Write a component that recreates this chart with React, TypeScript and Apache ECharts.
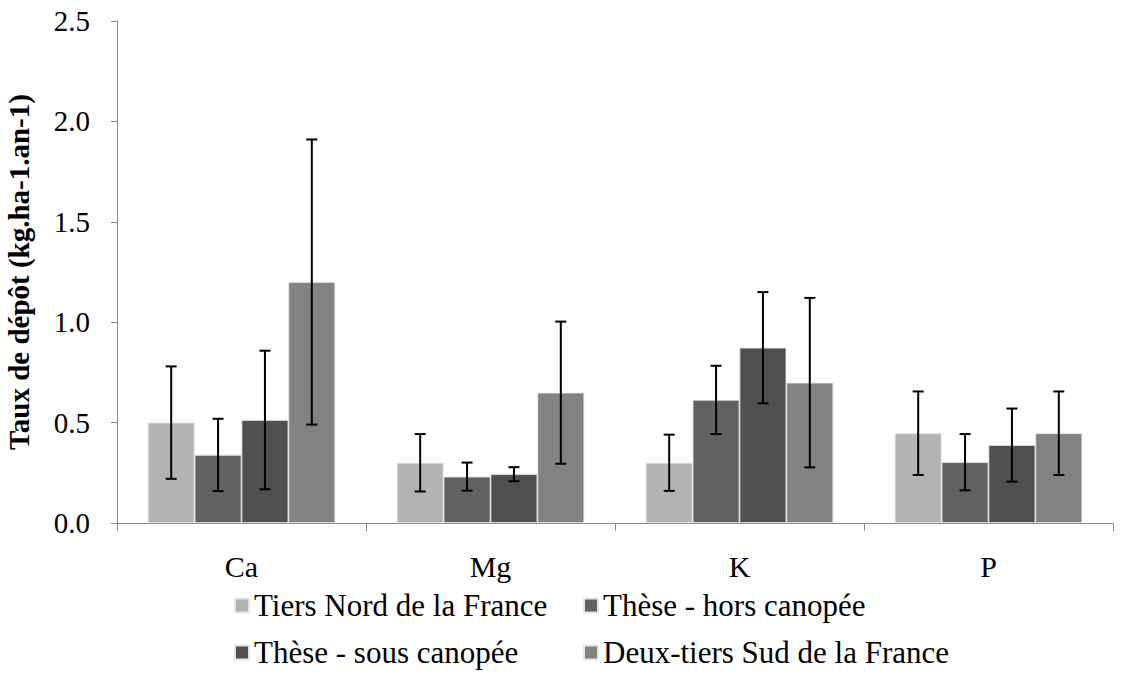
import React, { useEffect, useRef } from "react";
import * as echarts from "echarts";

const categories = ["Ca", "Mg", "K", "P"];
const seriesNames = [
  "Tiers Nord de la France",
  "Thèse - hors canopée",
  "Thèse - sous canopée",
  "Deux-tiers Sud de la France",
];
const tiersNord = [0.5, 0.3, 0.3, 0.447];
const horsCanopee = [0.339, 0.231, 0.613, 0.303];
const sousCanopee = [0.513, 0.243, 0.873, 0.388];
const deuxTiersSud = [1.2, 0.649, 0.699, 0.447];
const errTiersNord = [0.28, 0.143, 0.14, 0.208];
const errHorsCanopee = [0.18, 0.07, 0.17, 0.14];
const errSousCanopee = [0.345, 0.035, 0.277, 0.182];
const errDeuxTiersSud = [0.71, 0.354, 0.422, 0.208];
const colors = ["#b3b3b3", "#616161", "#505050", "#828282"];

const FONT = "'Liberation Serif', 'Times New Roman', serif";
const GAP = 0.247;

export default function App() {
  const ref = useRef<HTMLDivElement>(null);
  useEffect(() => {
    const chart = echarts.init(ref.current!, null, { renderer: "svg" });
    const values = [tiersNord, horsCanopee, sousCanopee, deuxTiersSud];
    const errs = [errTiersNord, errHorsCanopee, errSousCanopee, errDeuxTiersSud];
    const errData: number[][] = [];
    categories.forEach((_, c) => {
      values.forEach((arr, s) => {
        errData.push([c, s, arr[c] - errs[s][c], arr[c] + errs[s][c]]);
      });
    });
    const legendText = { fontFamily: FONT, fontSize: 31, color: "#000" };
    chart.setOption({
      animation: false,
      textStyle: { fontFamily: FONT },
      grid: { left: 117, right: 32, top: 21, bottom: 172, containLabel: false, outerBoundsMode: "none" },
      legend: [
        {
          data: [seriesNames[0], seriesNames[2]],
          orient: "vertical",
          left: 234,
          top: 590,
          padding: 0,
          itemGap: 16,
          itemWidth: 14,
          itemHeight: 14,
          icon: "rect",
          textStyle: legendText,
        },
        {
          data: [seriesNames[1], seriesNames[3]],
          orient: "vertical",
          left: 583,
          top: 590,
          padding: 0,
          itemGap: 16,
          itemWidth: 14,
          itemHeight: 14,
          icon: "rect",
          textStyle: legendText,
        },
      ],
      xAxis: {
        type: "category",
        data: categories,
        axisLine: { lineStyle: { color: "#8c8c8c", width: 1 } },
        axisTick: { show: true, length: 8, lineStyle: { color: "#8c8c8c" } },
        axisLabel: { fontFamily: FONT, fontSize: 30, color: "#000", margin: 28 },
      },
      yAxis: {
        type: "value",
        min: 0,
        max: 2.5,
        interval: 0.5,
        name: "Taux de dépôt (kg.ha-1.an-1)",
        nameLocation: "middle",
        nameGap: 84,
        nameTextStyle: { fontFamily: FONT, fontSize: 29, fontWeight: "bold", color: "#000" },
        axisLine: { show: true, lineStyle: { color: "#8c8c8c", width: 1 } },
        axisTick: { show: true, length: 6, inside: false, lineStyle: { color: "#8c8c8c" } },
        splitLine: { show: false },
        axisLabel: {
          fontFamily: FONT,
          fontSize: 29,
          color: "#000",
          margin: 27,
          formatter: (v: number) => v.toFixed(1),
        },
      },
      series: [
        ...values.map((arr, i) => ({
          name: seriesNames[i],
          type: "bar",
          data: arr,
          barGap: "0%",
          barCategoryGap: GAP * 100 + "%",
          itemStyle: { color: colors[i], borderColor: "#e6e6e6", borderWidth: 0.8 },
        })),
        {
          type: "custom",
          name: "err",
          z: 5,
          data: errData,
          encode: { x: 0, y: [2, 3] },
          renderItem: (params: any, api: any) => {
            const cat = api.value(0);
            const s = api.value(1);
            const lo = api.value(2);
            const hi = api.value(3);
            const band = api.size([1, 0])[0];
            const bw = (band * (1 - GAP)) / 4;
            const xc = api.coord([cat, 0])[0] + (s - 1.5) * bw;
            const yHi = api.coord([cat, hi])[1];
            const yLo = api.coord([cat, lo])[1];
            const cap = 5.5;
            const style = { stroke: "#000", lineWidth: 2 };
            return {
              type: "group",
              children: [
                { type: "line", shape: { x1: xc, y1: yHi, x2: xc, y2: yLo }, style },
                { type: "line", shape: { x1: xc - cap, y1: yHi, x2: xc + cap, y2: yHi }, style },
                { type: "line", shape: { x1: xc - cap, y1: yLo, x2: xc + cap, y2: yLo }, style },
              ],
            };
          },
        },
      ],
    });
    return () => chart.dispose();
  }, []);
  return <div ref={ref} style={{ width: 1145, height: 695, position: "absolute", left: 0, top: 0 }} />;
}
